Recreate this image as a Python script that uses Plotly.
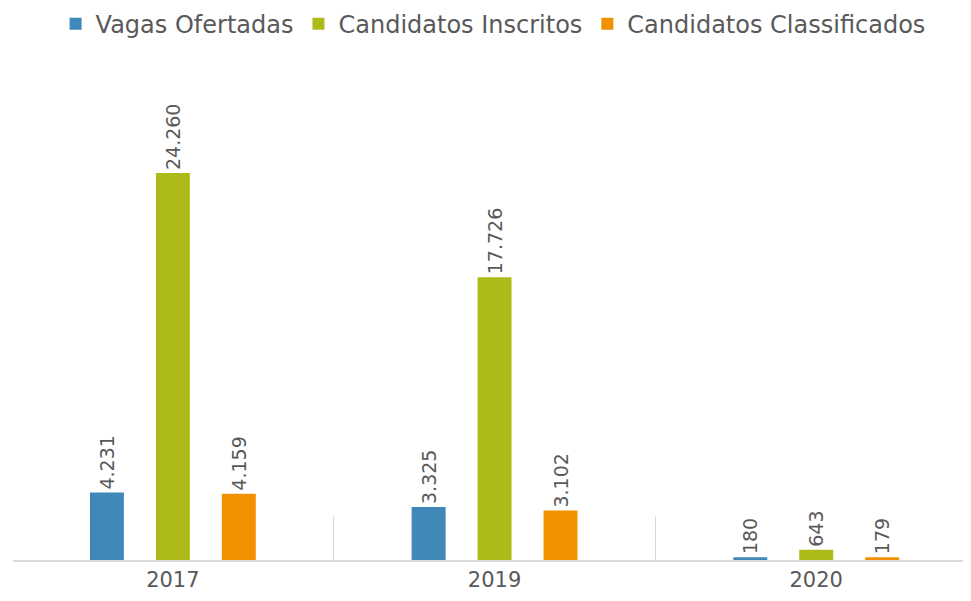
import plotly.graph_objects as go

anos = ["2017", "2019", "2020"]
vagas_ofertadas = [4231, 3325, 180]
candidatos_inscritos = [24260, 17726, 643]
candidatos_classificados = [4159, 3102, 179]

series = [
    ("Vagas Ofertadas", vagas_ofertadas, "#3F88B8"),
    ("Candidatos Inscritos", candidatos_inscritos, "#AEBA1A"),
    ("Candidatos Classificados", candidatos_classificados, "#F29100"),
]

FONT = "DejaVu Sans"
TXT = "#595959"

fig = go.Figure()
for name, vals, color in series:
    fig.add_trace(go.Bar(
        name=name, x=anos, y=vals,
        marker=dict(color=color, line=dict(width=0)),
        texttemplate="%{y:,}",
        textposition="outside",
        textangle=-90,
        constraintext="none",
        cliponaxis=False,
        textfont=dict(family=FONT, size=19, color=TXT),
    ))

fig.update_layout(
    width=971, height=601,
    margin=dict(l=5, r=0, t=52, b=49, autoexpand=False),
    paper_bgcolor="white", plot_bgcolor="white",
    separators=",.",
    barmode="group",
    bargap=0.385,
    bargroupgap=0.485,
    showlegend=True,
    legend=dict(
        orientation="h", x=0.497, xanchor="center", xref="paper",
        y=0.973, yanchor="middle", yref="container",
        font=dict(family=FONT, size=24, color=TXT),
        itemwidth=30, traceorder="normal",
    ),
    xaxis=dict(
        type="category", range=[-0.497, 2.506],
        showline=True, linecolor="#D9D9D9", linewidth=1.5,
        ticks="inside", tickson="boundaries", ticklen=44,
        tickcolor="#D9D9D9", tickwidth=1,
        showgrid=False, zeroline=False,
        tickfont=dict(family=FONT, size=21, color=TXT),
    ),
    yaxis=dict(
        range=[0, 31348], visible=False, showgrid=False, zeroline=False,
    ),
)

fig.write_html("out.html")
